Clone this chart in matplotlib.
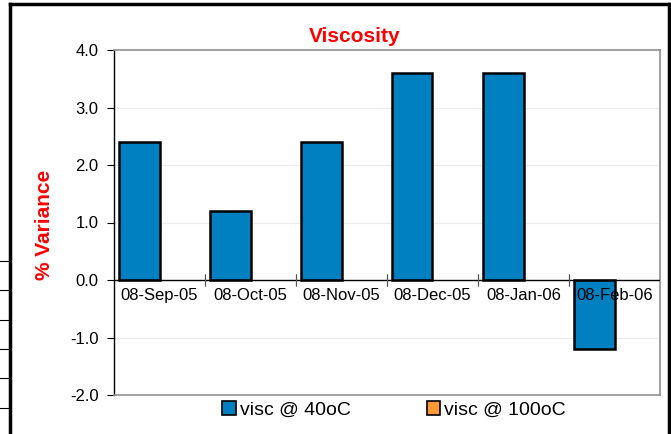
import numpy as np
import matplotlib
matplotlib.use('Agg')
import matplotlib.pyplot as plt
from matplotlib.lines import Line2D
from matplotlib.patches import Patch
from matplotlib.transforms import ScaledTranslation

# Data
dates      = ['08-Sep-05', '08-Oct-05', '08-Nov-05', '08-Dec-05', '08-Jan-06', '08-Feb-06']
visc_40    = [2.4, 1.2, 2.4, 3.6, 3.6, -1.2]
visc_100   = [0, 0, 0, 0, 0, 0]
series     = ['visc @ 40oC', 'visc @ 100oC']
y_ticks    = [-2.0, -1.0, 0.0, 1.0, 2.0, 3.0, 4.0]

BLUE   = '#0080C0'
ORANGE = '#FF9933'
W, H   = 671, 434

plt.rcParams['font.family'] = ['Liberation Sans', 'DejaVu Sans']

fig = plt.figure(figsize=(W / 100, H / 100), dpi=100)
ax = fig.add_axes([114 / W, 1 - 395 / H, (660 - 114) / W, (395 - 50) / H])

x = np.arange(len(dates))
bw = 0.44
ax.bar(x - bw / 2, visc_40, width=bw, color=BLUE, edgecolor='black', linewidth=1.8, zorder=3)
# 100oC series is all zero -> no visible bar, no outline
ax.bar(x + bw / 2, visc_100, width=bw, color=ORANGE, linewidth=0, zorder=3)

ax.set_xlim(-0.5, len(dates) - 0.5)
ax.set_ylim(-2, 4)

# faint gridlines
for yv in y_ticks[1:-1]:
    if yv != 0:
        ax.axhline(yv, color='#ececec', linewidth=0.8, zorder=1)
ax.axhline(0, color='black', linewidth=1.0, zorder=4)

# category separator ticks on the zero line
for b in np.arange(0.5, len(dates) - 0.5, 1.0):
    ax.plot([b, b], [0, 0], marker='|', markersize=9, color='#555555', markeredgewidth=0.8, zorder=4)

# x labels at zero line
lab_off = ScaledTranslation(0, -6 / 72, fig.dpi_scale_trans)
for i, d in enumerate(dates):
    ax.text(i, 0, d, ha='center', va='top', fontsize=12, transform=ax.transData + lab_off, zorder=5)

ax.set_xticks([])
ax.set_yticks(y_ticks)
ax.set_yticklabels([f'{v:.1f}' for v in y_ticks], fontsize=12)
ax.tick_params(axis='y', direction='out', length=5, width=0.8, pad=6)

for s in ['top', 'right', 'bottom']:
    ax.spines[s].set_color('#909090')
    ax.spines[s].set_linewidth(1.2)
ax.spines['left'].set_color('black')
ax.spines['left'].set_linewidth(1.0)

fig.text(355 / W, 1 - 36 / H, 'Viscosity', color='red', fontsize=15, fontweight='bold',
         ha='center', va='center')
fig.text(44 / W, 1 - 225 / H, '% Variance', color='red', fontsize=15, fontweight='bold',
         ha='center', va='center', rotation=90)

handles = [Patch(facecolor=BLUE, edgecolor='black', linewidth=1.2),
           Patch(facecolor=ORANGE, edgecolor='black', linewidth=1.2)]
fig.legend(handles, series, loc='center', bbox_to_anchor=(394 / W, 1 - 410 / H), ncol=2,
           frameon=False, fontsize=14, handlelength=0.7, handleheight=0.7, handletextpad=0.2,
           columnspacing=3.9)

# outer frame and remnants of the table behind
fig.add_artist(Line2D([10 / W, 10 / W], [0, 1 - 4 / H], color='black', linewidth=2.5, transform=fig.transFigure))
fig.add_artist(Line2D([10 / W, 669 / W], [1 - 4 / H, 1 - 4 / H], color='black', linewidth=2.5, transform=fig.transFigure))
fig.add_artist(Line2D([669 / W, 669 / W], [0, 1 - 4 / H], color='black', linewidth=2.5, transform=fig.transFigure))
for yy in [261, 290, 320, 349, 378, 408]:
    fig.add_artist(Line2D([0, 10 / W], [1 - yy / H, 1 - yy / H], color='black', linewidth=0.8,
                          transform=fig.transFigure))

fig.savefig('out.png', dpi=100)
